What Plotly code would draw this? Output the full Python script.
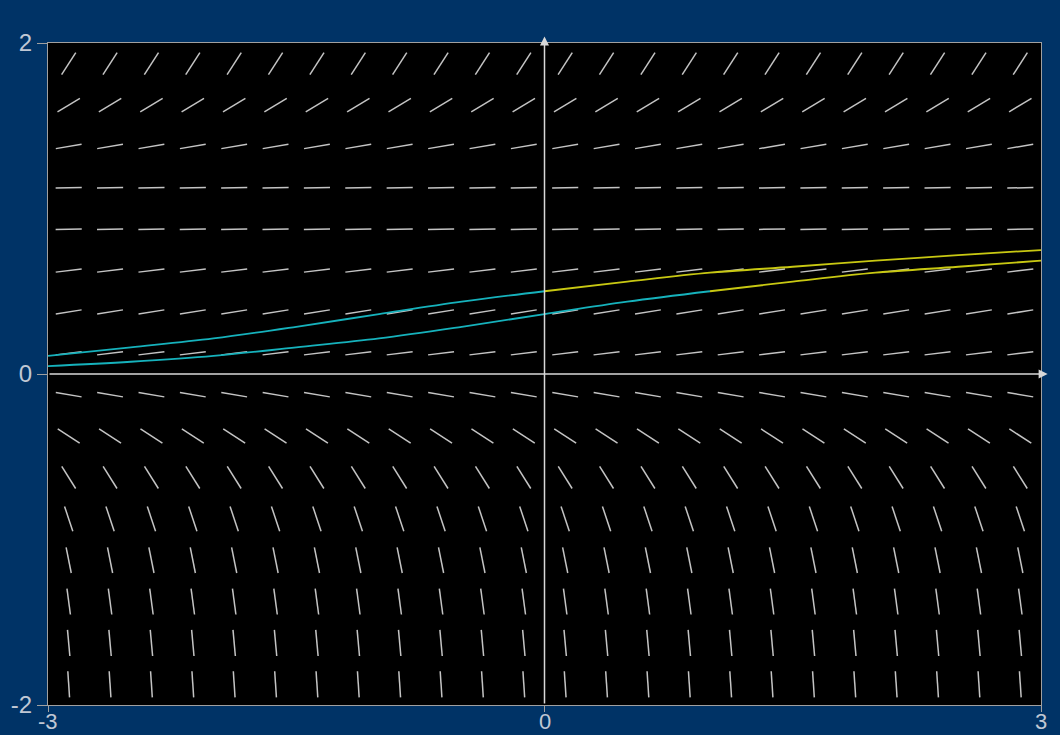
import math
import plotly.graph_objects as go

# ---- data ----
col_t = [-2.875, -2.625, -2.375, -2.125, -1.875, -1.625, -1.375, -1.125,
         -0.875, -0.625, -0.375, -0.125, 0.125, 0.375, 0.625, 0.875,
         1.125, 1.375, 1.625, 1.875, 2.125, 2.375, 2.625, 2.875]
row_y = [-1.875, -1.625, -1.375, -1.125, -0.875, -0.625, -0.375, -0.125,
         0.125, 0.375, 0.625, 0.875, 1.125, 1.375, 1.625, 1.875]
row_slope = [-15.0, -11.0, -7.5, -5.0, -3.0, -1.6, -0.65, -0.17,
             0.12, 0.16, 0.12, 0.015, 0.018, 0.17, 0.6, 1.55]

# solution through (0, 0.5)
sol1_back_t = [-3, -2.5, -2, -1.5, -1, -0.5, 0]
sol1_back_y = [0.109, 0.161, 0.215, 0.285, 0.362, 0.437, 0.5]
sol1_fwd_t = [0, 0.5, 1, 1.5, 2, 2.5, 3]
sol1_fwd_y = [0.5, 0.558, 0.612, 0.648, 0.685, 0.718, 0.749]

# solution through (1, 0.5)
sol2_back_t = [-3, -2.5, -2, -1.5, -1, -0.5, 0, 0.5, 1]
sol2_back_y = [0.048, 0.074, 0.109, 0.161, 0.215, 0.285, 0.362, 0.437, 0.5]
sol2_fwd_t = [1, 1.5, 2, 2.5, 3]
sol2_fwd_y = [0.5, 0.558, 0.612, 0.648, 0.685]

x_ticks = [-3, 0, 3]
y_ticks = [-2, 0, 2]

# ---- styling ----
BG = "#003366"
FIELD = "#c4c4c4"
CYAN = "#16b2bc"
YELLOW = "#c8c812"
TXT = "#c0c8d4"
HALF = 0.079  # half segment length in data units

fx, fy = [], []
for y, m in zip(row_y, row_slope):
    d = HALF / math.sqrt(1 + m * m)
    for t in col_t:
        fx += [t - d, t + d, None]
        fy += [y - m * d, y + m * d, None]

fig = go.Figure()
fig.add_trace(go.Scatter(x=fx, y=fy, mode="lines",
                         line=dict(color=FIELD, width=1.5), hoverinfo="skip"))
for tt, yy, c in [(sol1_back_t, sol1_back_y, CYAN), (sol1_fwd_t, sol1_fwd_y, YELLOW),
                  (sol2_back_t, sol2_back_y, CYAN), (sol2_fwd_t, sol2_fwd_y, YELLOW)]:
    fig.add_trace(go.Scatter(x=tt, y=yy, mode="lines",
                             line=dict(color=c, width=1.8, shape="spline"),
                             cliponaxis=False))

axis_common = dict(showgrid=False, zeroline=False, showline=True, mirror=True,
                   linecolor="#a0a0a0", linewidth=1, ticks="outside",
                   tickcolor="#a0a0a0", automargin=False,
                   tickfont=dict(family="Liberation Sans", size=24, color=TXT))

fig.update_layout(
    width=1060, height=735,
    paper_bgcolor=BG, plot_bgcolor="black",
    showlegend=False,
    margin=dict(l=48, r=19, t=43, b=30, pad=0, autoexpand=False),
    xaxis=dict(range=[-3, 3], tickvals=x_ticks, showticklabels=False,
               ticklen=6, **axis_common),
    yaxis=dict(range=[-2, 2], tickvals=y_ticks, ticktext=[str(v) for v in y_ticks],
               ticklen=10, **axis_common),
)

# x tick labels placed just under the frame
for v in x_ticks:
    fig.add_annotation(x=v, y=0, xref="x", yref="paper", text=str(v), showarrow=False,
                       yanchor="bottom", yshift=-30, borderpad=0,
                       font=dict(family="Liberation Sans", size=22, color=TXT))

# axes through origin with arrows
fig.add_annotation(x=3.04, y=0, ax=-3, ay=0, xref="x", yref="y", axref="x", ayref="y",
                   showarrow=True, arrowhead=2, arrowsize=1.2, arrowwidth=1.5,
                   arrowcolor="#d8d8d8", text="")
fig.add_annotation(x=0, y=2.04, ax=0, ay=-2, xref="x", yref="y", axref="x", ayref="y",
                   showarrow=True, arrowhead=2, arrowsize=1.2, arrowwidth=1.5,
                   arrowcolor="#d8d8d8", text="")
fig.add_annotation(x=0, y=2.08, xref="x", yref="y", text="<b>y</b>", showarrow=False,
                   font=dict(family="Liberation Sans", size=20, color="#d8d8d8"),
                   yanchor="bottom")
fig.add_annotation(x=3.07, y=0, xref="x", yref="y", text="<b>t</b>", showarrow=False,
                   font=dict(family="Liberation Sans", size=20, color="#d8d8d8"),
                   xanchor="left")

fig.write_html("out.html",
               config={"displayModeBar": False},
               post_script="document.body.style.margin='0';"
                           "document.body.style.background='#003366';"
                           "document.body.style.overflow='hidden';")
